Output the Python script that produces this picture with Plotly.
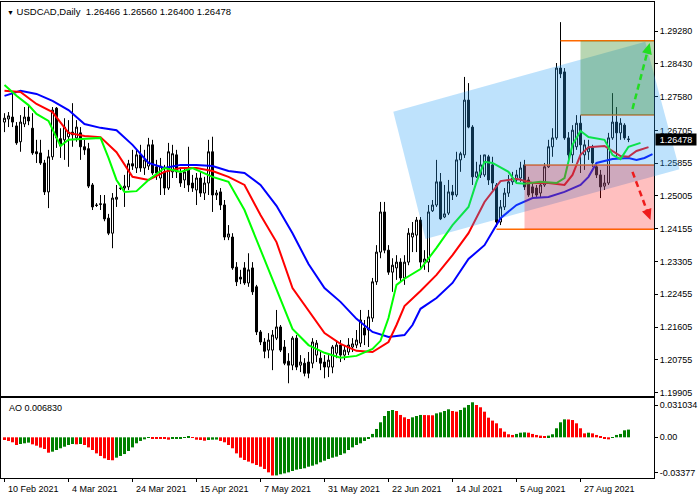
import plotly.graph_objects as go

# ---------------- data ----------------
bar_index = list(range(157))

open_ = [
    1.2692, 1.2700, 1.2705, 1.2682, 1.2641, 1.2687, 1.2705, 1.2676, 1.2615, 1.2612,
    1.2586, 1.2511, 1.2602, 1.2728, 1.2649, 1.2646, 1.2654, 1.2666, 1.2651, 1.2664,
    1.2628, 1.2623, 1.2529, 1.2477, 1.2480, 1.2480, 1.2443, 1.2404, 1.2492, 1.2521,
    1.2521, 1.2524, 1.2584, 1.2573, 1.2607, 1.2573, 1.2578, 1.2633, 1.2576, 1.2547,
    1.2563, 1.2521, 1.2563, 1.2607, 1.2560, 1.2542, 1.2568, 1.2534, 1.2516, 1.2547,
    1.2508, 1.2534, 1.2615, 1.2503, 1.2511, 1.2477, 1.2394, 1.2394, 1.2316, 1.2290,
    1.2314, 1.2275, 1.2314, 1.2265, 1.2148, 1.2122, 1.2101, 1.2101, 1.2132, 1.2161,
    1.2109, 1.2072, 1.2062, 1.2132, 1.2062, 1.2067, 1.2070, 1.2067, 1.2088, 1.2080,
    1.2070, 1.2057, 1.2057, 1.2093, 1.2114, 1.2088, 1.2096, 1.2109, 1.2114, 1.2119,
    1.2158, 1.2153, 1.2184, 1.2278, 1.2355, 1.2459, 1.2360, 1.2303, 1.2314, 1.2329,
    1.2288, 1.2329, 1.2394, 1.2399, 1.2438, 1.2329, 1.2329, 1.2462, 1.2477, 1.2537,
    1.2446, 1.2456, 1.2511, 1.2503, 1.2594, 1.2607, 1.2749, 1.2679, 1.2550, 1.2555,
    1.2555, 1.2602, 1.2581, 1.2529, 1.2433, 1.2472, 1.2508, 1.2537, 1.2542, 1.2547,
    1.2581, 1.2542, 1.2524, 1.2521, 1.2508, 1.2529, 1.2576, 1.2628, 1.2651, 1.2832,
    1.2822, 1.2651, 1.2607, 1.2628, 1.2689, 1.2607, 1.2615, 1.2625, 1.2576, 1.2555,
    1.2526, 1.2534, 1.2651, 1.2692, 1.2664, 1.2684, 1.26466,
]
high = [
    1.2715, 1.2718, 1.2767, 1.2692, 1.2710, 1.2731, 1.2736, 1.2715, 1.2646, 1.2646,
    1.2594, 1.2620, 1.2731, 1.2731, 1.2676, 1.2702, 1.2697, 1.2741, 1.2697, 1.2679,
    1.2646, 1.2638, 1.2534, 1.2482, 1.2503, 1.2503, 1.2454, 1.2508, 1.2529, 1.2526,
    1.2555, 1.2594, 1.2620, 1.2620, 1.2633, 1.2620, 1.2651, 1.2646, 1.2594, 1.2599,
    1.2581, 1.2638, 1.2633, 1.2620, 1.2573, 1.2573, 1.2628, 1.2555, 1.2560, 1.2563,
    1.2550, 1.2646, 1.2654, 1.2516, 1.2521, 1.2490, 1.2425, 1.2404, 1.2329, 1.2309,
    1.2329, 1.2352, 1.2329, 1.2270, 1.2153, 1.2132, 1.2145, 1.2153, 1.2205, 1.2166,
    1.2127, 1.2093, 1.2137, 1.2140, 1.2088, 1.2080, 1.2096, 1.2132, 1.2127, 1.2096,
    1.2088, 1.2088, 1.2114, 1.2127, 1.2127, 1.2114, 1.2132, 1.2132, 1.2153, 1.2205,
    1.2179, 1.2205, 1.2288, 1.2373, 1.2485, 1.2485, 1.2373, 1.2339, 1.2347, 1.2339,
    1.2347, 1.2417, 1.2433, 1.2446, 1.2446, 1.2360, 1.2477, 1.2490, 1.2594, 1.2560,
    1.2529, 1.2542, 1.2529, 1.2615, 1.2615, 1.2809, 1.2793, 1.2684, 1.2589, 1.2607,
    1.2607, 1.2607, 1.2602, 1.2534, 1.2490, 1.2521, 1.2555, 1.2563, 1.2568, 1.2589,
    1.2594, 1.2550, 1.2534, 1.2529, 1.2534, 1.2586, 1.2646, 1.2676, 1.2845, 1.2951,
    1.2832, 1.2666, 1.2684, 1.2710, 1.2710, 1.2646, 1.2646, 1.2633, 1.2586, 1.2568,
    1.2555, 1.2664, 1.2767, 1.2731, 1.2702, 1.2689, 1.26560,
]
low = [
    1.2666, 1.2679, 1.2679, 1.2633, 1.2615, 1.2679, 1.2684, 1.2607, 1.2586, 1.2581,
    1.2503, 1.2469, 1.2594, 1.2625, 1.2599, 1.2594, 1.2576, 1.2628, 1.2641, 1.2594,
    1.2607, 1.2521, 1.2464, 1.2472, 1.2464, 1.2435, 1.2399, 1.2365, 1.2472, 1.2516,
    1.2472, 1.2516, 1.2568, 1.2560, 1.2563, 1.2555, 1.2568, 1.2555, 1.2542, 1.2503,
    1.2503, 1.2516, 1.2547, 1.2547, 1.2524, 1.2521, 1.2511, 1.2511, 1.2477, 1.2498,
    1.2490, 1.2503, 1.2459, 1.2490, 1.2464, 1.2386, 1.2386, 1.2309, 1.2267, 1.2272,
    1.2270, 1.2265, 1.2244, 1.2140, 1.2114, 1.2080, 1.2080, 1.2049, 1.2127, 1.2096,
    1.2062, 1.2015, 1.2049, 1.2049, 1.2044, 1.2033, 1.2028, 1.2054, 1.2070, 1.2049,
    1.2028, 1.2031, 1.2041, 1.2080, 1.2070, 1.2075, 1.2088, 1.2096, 1.2106, 1.2109,
    1.2114, 1.2109, 1.2174, 1.2270, 1.2339, 1.2352, 1.2296, 1.2252, 1.2283, 1.2278,
    1.2270, 1.2321, 1.2355, 1.2355, 1.2314, 1.2309, 1.2303, 1.2459, 1.2472, 1.2438,
    1.2443, 1.2451, 1.2490, 1.2498, 1.2563, 1.2599, 1.2676, 1.2529, 1.2547, 1.2547,
    1.2550, 1.2529, 1.2516, 1.2420, 1.2425, 1.2464, 1.2498, 1.2529, 1.2534, 1.2537,
    1.2516, 1.2498, 1.2498, 1.2495, 1.2498, 1.2524, 1.2573, 1.2602, 1.2646, 1.2806,
    1.2646, 1.2594, 1.2586, 1.2620, 1.2560, 1.2568, 1.2594, 1.2576, 1.2547, 1.2495,
    1.2516, 1.2529, 1.2646, 1.2599, 1.2646, 1.2646, 1.26400,
]
close = [
    1.2702, 1.2708, 1.2692, 1.2638, 1.2692, 1.2705, 1.2695, 1.2612, 1.2610, 1.2586,
    1.2511, 1.2602, 1.2723, 1.2651, 1.2630, 1.2679, 1.2666, 1.2659, 1.2679, 1.2628,
    1.2620, 1.2526, 1.2472, 1.2476, 1.2479, 1.2441, 1.2404, 1.2495, 1.2497, 1.2520,
    1.2526, 1.2584, 1.2578, 1.2607, 1.2573, 1.2594, 1.2633, 1.2560, 1.2560, 1.2578,
    1.2521, 1.2615, 1.2610, 1.2563, 1.2534, 1.2563, 1.2529, 1.2521, 1.2547, 1.2508,
    1.2534, 1.2615, 1.2503, 1.2508, 1.2477, 1.2394, 1.2402, 1.2314, 1.2278, 1.2285,
    1.2275, 1.2309, 1.2252, 1.2148, 1.2122, 1.2098, 1.2127, 1.2140, 1.2161, 1.2101,
    1.2067, 1.2062, 1.2132, 1.2057, 1.2070, 1.2041, 1.2041, 1.2122, 1.2119, 1.2067,
    1.2057, 1.2075, 1.2109, 1.2114, 1.2088, 1.2101, 1.2114, 1.2117, 1.2127, 1.2179,
    1.2140, 1.2187, 1.2278, 1.2355, 1.2459, 1.2360, 1.2303, 1.2321, 1.2329, 1.2288,
    1.2329, 1.2404, 1.2404, 1.2438, 1.2329, 1.2337, 1.2459, 1.2477, 1.2537, 1.2441,
    1.2454, 1.2511, 1.2503, 1.2594, 1.2610, 1.2749, 1.2679, 1.2550, 1.2563, 1.2581,
    1.2607, 1.2542, 1.2534, 1.2433, 1.2472, 1.2508, 1.2537, 1.2547, 1.2555, 1.2573,
    1.2524, 1.2503, 1.2508, 1.2503, 1.2529, 1.2576, 1.2628, 1.2651, 1.2832, 1.2817,
    1.2651, 1.2607, 1.2671, 1.2689, 1.2633, 1.2633, 1.2625, 1.2586, 1.2555, 1.2524,
    1.2534, 1.2651, 1.2692, 1.2664, 1.2689, 1.2651, 1.26478,
]

ao_values = [
    -0.0024, -0.0032, -0.0044, -0.0068, -0.0059, -0.0053, -0.0047, -0.0062, -0.0074, -0.0091,
    -0.0103, -0.0136, -0.0127, -0.0112, -0.0097, -0.0083, -0.0068, -0.0059, -0.0062, -0.0059,
    -0.0068, -0.0089, -0.0112, -0.0142, -0.0165, -0.0186, -0.0201, -0.0203, -0.0180, -0.0165,
    -0.0148, -0.0121, -0.0089, -0.0053, -0.0032, -0.0018, -0.0006, -0.0009, -0.0010, -0.0012,
    -0.0015, -0.0021, -0.0015, -0.0012, -0.0009, -0.0006, 0.0012, -0.0003, -0.0021, -0.0024,
    -0.0030, -0.0024, -0.0021, -0.0020, -0.0032, -0.0044, -0.0068, -0.0097, -0.0142, -0.0180,
    -0.0201, -0.0215, -0.0230, -0.0245, -0.0260, -0.0280, -0.0310, -0.0338, -0.0337, -0.0327,
    -0.0319, -0.0310, -0.0298, -0.0286, -0.0280, -0.0274, -0.0260, -0.0251, -0.0239, -0.0221,
    -0.0207, -0.0192, -0.0180, -0.0171, -0.0156, -0.0142, -0.0112, -0.0089, -0.0068, -0.0053,
    -0.0032, -0.0015, 0.0030, 0.0074, 0.0133, 0.0189, 0.0233, 0.0242, 0.0233, 0.0198,
    0.0177, 0.0162, 0.0177, 0.0189, 0.0198, 0.0197, 0.0196, 0.0195, 0.0212, 0.0221,
    0.0233, 0.0248, 0.0233, 0.0227, 0.0242, 0.0263, 0.0286, 0.0310, 0.0286, 0.0266,
    0.0227, 0.0174, 0.0148, 0.0124, 0.0080, 0.0050, 0.0027, 0.0021, 0.0030, 0.0041,
    0.0044, 0.0041, 0.0030, 0.0021, 0.0015, 0.0006, 0.0015, 0.0027, 0.0080, 0.0133,
    0.0159, 0.0158, 0.0153, 0.0124, 0.0080, 0.0035, 0.0041, 0.0035, 0.0021, 0.0006,
    -0.0009, -0.0018, -0.0006, 0.0021, 0.0030, 0.0062, 0.00683,
]

# Alligator lines (jaw = blue, teeth = red, lips = green), read at sample bars
jaw_x = [0, 4, 8, 12, 16, 20, 24, 28, 32, 36, 40, 44, 48, 52, 56, 60, 64, 68, 72, 76, 80, 84,
         88, 92, 96, 100, 102, 104, 108, 112, 116, 120, 124, 128, 132, 136, 140, 144, 146,
         148, 152, 156, 158, 160, 162]
jaw_y = [1.2760, 1.2773, 1.2765, 1.2747, 1.2723, 1.2687, 1.2677, 1.2671, 1.2633, 1.2586,
         1.2573, 1.2581, 1.2581, 1.2578, 1.2565, 1.2560, 1.2529, 1.2475, 1.2404, 1.2324,
         1.2262, 1.2226, 1.2182, 1.2148, 1.2135, 1.2140, 1.2166, 1.2208, 1.2236, 1.2275,
         1.2337, 1.2373, 1.2443, 1.2477, 1.2495, 1.2498, 1.2511, 1.2529, 1.2550, 1.2586,
         1.2596, 1.2599, 1.2594, 1.2599, 1.2609]

teeth_x = [0, 4, 8, 12, 16, 20, 24, 28, 32, 36, 40, 44, 48, 52, 56, 60, 64, 68, 72, 76, 80,
           84, 88, 92, 96, 98, 100, 104, 108, 112, 116, 120, 124, 128, 132, 136, 140, 142,
           144, 146, 150, 154, 156, 158, 161]
teeth_y = [1.2773, 1.2770, 1.2739, 1.2718, 1.2664, 1.2656, 1.2653, 1.2614, 1.2550, 1.2542,
           1.2563, 1.2573, 1.2573, 1.2565, 1.2550, 1.2529, 1.2451, 1.2381, 1.2262, 1.2205,
           1.2145, 1.2117, 1.2099, 1.2096, 1.2122, 1.2166, 1.2215, 1.2254, 1.2296, 1.2347,
           1.2404, 1.2485, 1.2539, 1.2545, 1.2534, 1.2534, 1.2529, 1.2555, 1.2607, 1.2627,
           1.2630, 1.2604, 1.2602, 1.2617, 1.2627]

lips_x = [0, 3, 6, 8, 11, 13, 14, 16, 20, 24, 26, 28, 30, 33, 36, 40, 44, 47, 52, 56, 60, 64,
          68, 72, 76, 80, 84, 88, 92, 94, 96, 98, 100, 104, 108, 112, 116, 118, 120, 122,
          126, 128, 130, 134, 138, 140, 142, 144, 146, 150, 152, 154, 156, 159]
lips_y = [1.2788, 1.2760, 1.2736, 1.2713, 1.2695, 1.2651, 1.2630, 1.2646, 1.2648, 1.2651,
          1.2599, 1.2542, 1.2511, 1.2513, 1.2542, 1.2573, 1.2563, 1.2573, 1.2550, 1.2537,
          1.2464, 1.2360, 1.2257, 1.2156, 1.2114, 1.2094, 1.2081, 1.2086, 1.2104, 1.2125,
          1.2184, 1.2270, 1.2286, 1.2311, 1.2366, 1.2425, 1.2472, 1.2537, 1.2589, 1.2586,
          1.2563, 1.2534, 1.2532, 1.2537, 1.2534, 1.2547, 1.2633, 1.2669, 1.2653, 1.2646,
          1.2607, 1.2596, 1.2628, 1.2638]

price_ticks = [1.29280, 1.28430, 1.27580, 1.26705, 1.25855, 1.25005, 1.24155,
               1.23305, 1.22455, 1.21605, 1.20755, 1.19905]
date_tick_index = [0, 16, 32, 48, 64, 80, 96, 112, 128, 144]
date_tick_text = ["10 Feb 2021", "4 Mar 2021", "24 Mar 2021", "15 Apr 2021", "7 May 2021",
                  "31 May 2021", "22 Jun 2021", "14 Jul 2021", "5 Aug 2021", "27 Aug 2021"]
ao_tick_text = ["0.031034", "0.00", "-0.03377"]

symbol_text = "USDCAD,Daily"
last_bar = (1.26466, 1.26560, 1.26400, 1.26478)
ao_last = 0.006830

# drawing-tool objects (bar index, price)
level_prices = [1.2903, 1.2710, 1.2581, 1.2414]
level_start = [139, 144, 130, 123]
channel_corners = [(97.2, 1.2719), (160.2, 1.2900), (168.75, 1.2570), (105.25, 1.2389)]
target_box_up = (144, 1.2710, 1.2903)
target_box_down = (130, 1.2414, 1.2581)
arrow_up = ((157.0, 1.2726), (161.3, 1.2897))
arrow_down = ((157.0, 1.2563), (161.5, 1.2438))

# ---------------- geometry ----------------
W, H = 700, 500
ML, MR, MT, MB = 1, 46, 2, 22
PW, PH = W - ML - MR, H - MT - MB
X0, X1 = -0.875, 162.375
MAIN_TOP_PX, MAIN_BOT_PX = 2, 396
AO_TOP_PX, AO_BOT_PX = 398, 478
Y0, Y1 = 1.19820, 1.30032
AO0, AO1 = -0.0360, 0.0348
ao_tick_vals = [0.0286, 0.0, -0.0313]


def paper_y_px(py):
    return (H - MB - py) / PH


def paper_x_px(px):
    return (px - ML) / PW


def px_x(i):
    return ML + (i - X0) / (X1 - X0) * PW


def px_y(p):
    return MAIN_BOT_PX - (p - Y0) / (Y1 - Y0) * (MAIN_BOT_PX - MAIN_TOP_PX)


FONT = "Liberation Sans, Arial, sans-serif"

fig = go.Figure()

fig.add_trace(go.Candlestick(
    x=bar_index, open=open_, high=high, low=low, close=close,
    increasing=dict(line=dict(color="black", width=1), fillcolor="white"),
    decreasing=dict(line=dict(color="black", width=1), fillcolor="black"),
    whiskerwidth=0, showlegend=False, hoverinfo="skip", xaxis="x", yaxis="y"))

for xs, ys, col in [(jaw_x, jaw_y, "#0000ff"), (teeth_x, teeth_y, "#ff0000"),
                    (lips_x, lips_y, "#00ff00")]:
    fig.add_trace(go.Scatter(x=xs, y=ys, mode="lines", line=dict(color=col, width=2),
                             showlegend=False, hoverinfo="skip", xaxis="x", yaxis="y"))

ao_colors = ["#ff0000"] + ["#008000" if ao_values[k] > ao_values[k - 1] else "#ff0000"
                           for k in range(1, len(ao_values))]
fig.add_trace(go.Bar(x=bar_index, y=ao_values, marker=dict(color=ao_colors, line=dict(width=0)),
                     xaxis="x2", yaxis="y2", showlegend=False, hoverinfo="skip"))

shapes = []
# horizontal levels (orange)
for p, s in zip(level_prices, level_start):
    shapes.append(dict(type="line", xref="x", yref="y", x0=s, x1=X1, y0=p, y1=p,
                       line=dict(color="#ff6a00", width=1.5), layer="above"))
# rotated channel
pts = [(paper_x_px(px_x(i)), paper_y_px(px_y(p))) for i, p in channel_corners]
path = "M " + " L ".join(f"{x:.5f},{y:.5f}" for x, y in pts) + " Z"
shapes.append(dict(type="path", xref="paper", yref="paper", path=path,
                   fillcolor="rgba(40,160,245,0.30)", line=dict(width=0), layer="above"))
# target boxes
shapes.append(dict(type="rect", xref="x", yref="y", x0=target_box_up[0], x1=X1,
                   y0=target_box_up[1], y1=target_box_up[2],
                   fillcolor="rgba(40,130,20,0.33)", line=dict(width=0), layer="above"))
shapes.append(dict(type="rect", xref="x", yref="y", x0=target_box_down[0], x1=X1,
                   y0=target_box_down[1], y1=target_box_down[2],
                   fillcolor="rgba(255,0,0,0.25)", line=dict(width=0), layer="above"))

# dashed arrows
for (tail, tip), col in [(arrow_up, "#22dd22"), (arrow_down, "#ee1c1c")]:
    sx, sy = px_x(tail[0]), px_y(tail[1])
    tx, ty = px_x(tip[0]), px_y(tip[1])
    dx, dy = tx - sx, ty - sy
    ln = (dx * dx + dy * dy) ** 0.5
    ux, uy = dx / ln, dy / ln
    nx, ny = -uy, ux
    L, hw = 11, 5
    bx, by = tx - ux * L, ty - uy * L
    shapes.append(dict(type="line", xref="paper", yref="paper",
                       x0=paper_x_px(sx), y0=paper_y_px(sy),
                       x1=paper_x_px(bx + ux * 1), y1=paper_y_px(by + uy * 1),
                       line=dict(color=col, width=2.5, dash="6px,4px"), layer="above"))
    tri = [(tx, ty), (bx + nx * hw, by + ny * hw), (bx - nx * hw, by - ny * hw)]
    tpath = "M " + " L ".join(f"{paper_x_px(a):.5f},{paper_y_px(b):.5f}" for a, b in tri) + " Z"
    shapes.append(dict(type="path", xref="paper", yref="paper", path=tpath,
                       fillcolor=col, line=dict(width=0), layer="above"))

annotations = []
annotations.append(dict(xref="paper", yref="paper", x=paper_x_px(5), y=paper_y_px(11),
                        xanchor="left", yanchor="middle", showarrow=False,
                        text="<span style='font-size:7px'>▼</span> " + symbol_text + "\u00a0\u00a0"
                        + " ".join(f"{v:.5f}" for v in last_bar),
                        font=dict(family=FONT, size=9.5, color="black")))
annotations.append(dict(xref="paper", yref="paper", x=paper_x_px(7), y=paper_y_px(408),
                        xanchor="left", yanchor="middle", showarrow=False,
                        text=f"AO {ao_last:.6f}", font=dict(family=FONT, size=9, color="black")))
for i, t in zip(date_tick_index, date_tick_text):
    annotations.append(dict(xref="x2", yref="paper", x=i, y=paper_y_px(489), xshift=1,
                            xanchor="left", yanchor="middle", showarrow=False, text=t,
                            font=dict(family=FONT, size=9, color="black")))
annotations.append(dict(xref="paper", yref="y", x=paper_x_px(655), y=last_bar[3],
                        xanchor="left", yanchor="middle", showarrow=False,
                        text=f"{last_bar[3]:.5f}", bgcolor="black", width=40, height=11,
                        borderpad=0, align="center",
                        font=dict(family=FONT, size=9, color="white")))

axis_common = dict(showgrid=False, zeroline=False, showline=True, mirror=True,
                   linecolor="black", linewidth=1, fixedrange=True)

fig.update_layout(
    width=W, height=H,
    margin=dict(l=ML, r=MR, t=MT, b=MB, autoexpand=False),
    paper_bgcolor="white", plot_bgcolor="white",
    showlegend=False, bargap=0.25, boxgap=0.2857, boxgroupgap=0.3,
    xaxis=dict(domain=[0, 1], range=[X0, X1], anchor="y", showticklabels=False, ticks="",
               rangeslider=dict(visible=False), **axis_common),
    yaxis=dict(domain=[paper_y_px(MAIN_BOT_PX), 1], range=[Y0, Y1], anchor="x", side="right",
               tickvals=price_ticks, ticktext=[f"{v:.5f}" for v in price_ticks],
               ticks="outside", ticklen=3, tickcolor="black",
               tickfont=dict(family=FONT, size=9, color="black"), **axis_common),
    xaxis2=dict(domain=[0, 1], range=[X0, X1], anchor="y2", showticklabels=False,
                tickvals=date_tick_index, ticks="outside", ticklen=3, tickcolor="black",
                **axis_common),
    yaxis2=dict(domain=[0, paper_y_px(AO_TOP_PX)], range=[AO0, AO1], anchor="x2", side="right",
                tickvals=ao_tick_vals, ticktext=ao_tick_text, ticks="outside", ticklen=3,
                tickcolor="black", tickfont=dict(family=FONT, size=9, color="black"),
                **axis_common),
    shapes=shapes,
    annotations=annotations,
)

fig.write_html("out.html", config={"displayModeBar": False},
               post_script="document.body.style.margin='0';document.body.style.overflow='hidden';")
